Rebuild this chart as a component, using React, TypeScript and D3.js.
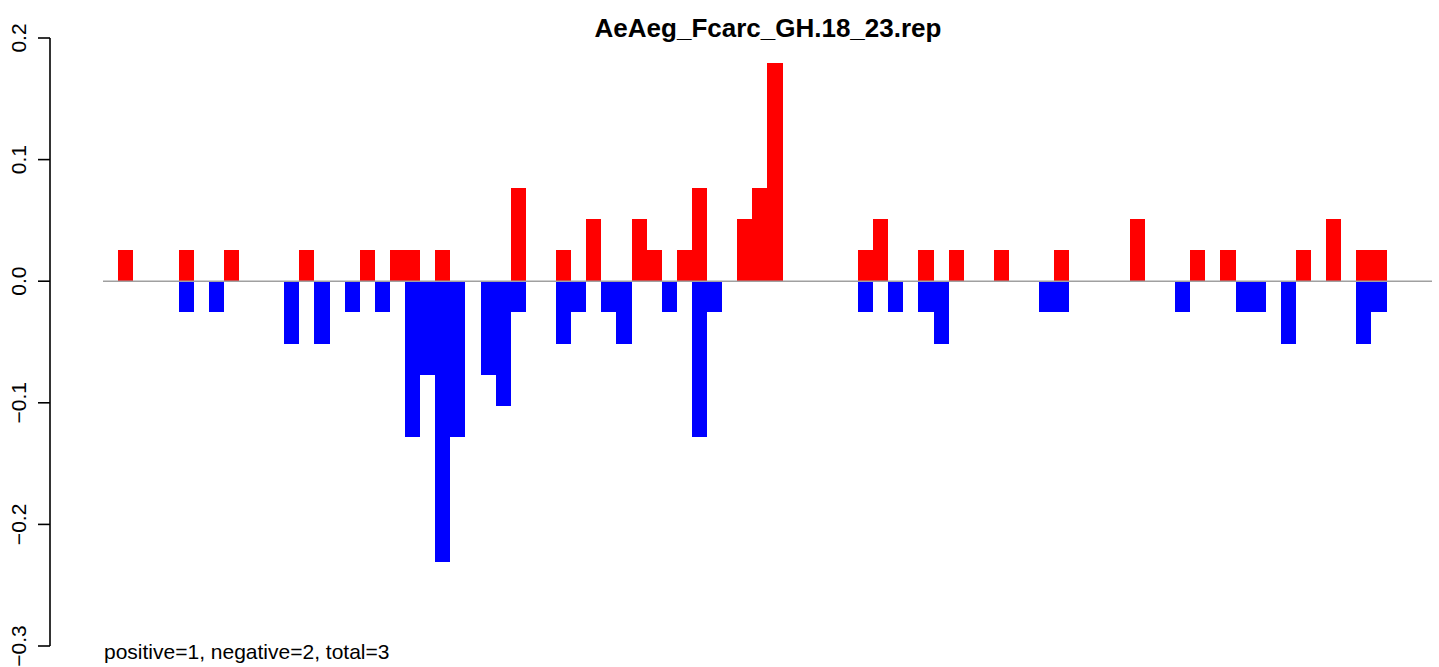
import React from "react";
import * as d3 from "d3";

const TITLE = "AeAeg_Fcarc_GH.18_23.rep";
const FOOTNOTE = "positive=1, negative=2, total=3";
const N_POSITIONS = 85;

const posIndex = [1, 5, 8, 13, 17, 19, 20, 22, 27, 30, 32, 35, 36, 38, 39, 42, 43, 44, 50, 51, 54, 56, 59, 63, 68, 72, 74, 79, 81, 83, 84];
const posValue = [0.0256, 0.0256, 0.0256, 0.0256, 0.0256, 0.0256, 0.0256, 0.0256, 0.0769, 0.0256, 0.0513, 0.0513, 0.0256, 0.0256, 0.0769, 0.0513, 0.0769, 0.1795, 0.0256, 0.0513, 0.0256, 0.0256, 0.0256, 0.0256, 0.0513, 0.0256, 0.0256, 0.0256, 0.0513, 0.0256, 0.0256];

const negIndex = [5, 7, 12, 14, 16, 18, 20, 21, 22, 23, 25, 26, 27, 30, 31, 33, 34, 37, 39, 40, 50, 52, 54, 55, 62, 63, 71, 75, 76, 78, 83, 84];
const negValue = [-0.0256, -0.0256, -0.0513, -0.0513, -0.0256, -0.0256, -0.1282, -0.0769, -0.2308, -0.1282, -0.0769, -0.1026, -0.0256, -0.0513, -0.0256, -0.0256, -0.0513, -0.0256, -0.1282, -0.0256, -0.0256, -0.0256, -0.0256, -0.0513, -0.0256, -0.0256, -0.0256, -0.0256, -0.0256, -0.0513, -0.0513, -0.0256];

const yTicks = [-0.3, -0.2, -0.1, 0.0, 0.1, 0.2];

export default function App() {
  const W = 1439;
  const H = 667;
  const x = d3
    .scaleBand<number>()
    .domain(d3.range(N_POSITIONS))
    .range([103, 103 + 15.1 * N_POSITIONS])
    .paddingInner(0)
    .paddingOuter(0);
  const y = d3.scaleLinear().domain([-0.3, 0.2]).range([646, 38]);
  const font = "'Liberation Sans', Arial, Helvetica, sans-serif";
  const axisX = 50;

  return (
    <svg
      width={W}
      height={H}
      style={{ position: "absolute", left: 0, top: 0, display: "block", background: "#fff" }}
      fontFamily={font}
    >
      <text x={768} y={37} textAnchor="middle" fontWeight="bold" fontSize={26} fill="#000">
        {TITLE}
      </text>
      {posIndex.map((k, i) => (
        <rect
          key={"p" + k}
          x={x(k)!}
          width={x.bandwidth()}
          y={y(posValue[i])}
          height={y(0) - y(posValue[i])}
          fill="#ff0000"
          shapeRendering="crispEdges"
        />
      ))}
      {negIndex.map((k, i) => (
        <rect
          key={"n" + k}
          x={x(k)!}
          width={x.bandwidth()}
          y={y(0)}
          height={y(negValue[i]) - y(0)}
          fill="#0000ff"
          shapeRendering="crispEdges"
        />
      ))}
      <line x1={103} x2={1432} y1={y(0)} y2={y(0)} stroke="#a0a0a0" strokeWidth={1.6} />
      <line x1={axisX} x2={axisX} y1={y(0.2)} y2={y(-0.3)} stroke="#000" strokeWidth={1.6} />
      {yTicks.map((t) => (
        <g key={t}>
          <line x1={axisX - 12} x2={axisX} y1={y(t)} y2={y(t)} stroke="#000" strokeWidth={1.6} />
          <text
            transform={`translate(26,${y(t)}) rotate(-90)`}
            textAnchor="middle"
            fontSize={21}
            fill="#000"
          >
            {t === 0 ? "0.0" : d3.format(".1f")(t).replace("-", "\u2212")}
          </text>
        </g>
      ))}
      <text x={104} y={659} fontSize={21} fill="#000">
        {FOOTNOTE}
      </text>
    </svg>
  );
}
